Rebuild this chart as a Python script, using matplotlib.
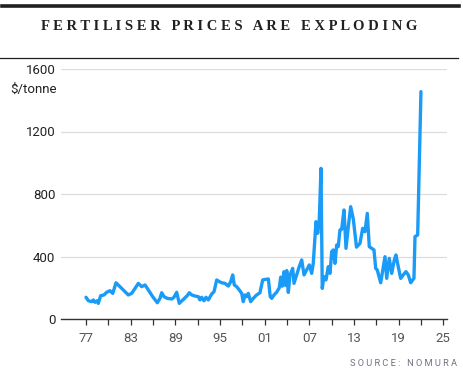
import matplotlib
matplotlib.use('Agg')
import matplotlib.pyplot as plt
from matplotlib.lines import Line2D

years = [1977.00, 1977.31, 1977.77, 1977.98, 1978.21, 1978.52, 1978.65, 1978.97, 1979.42, 1979.78,
         1980.22, 1980.59, 1981.03, 1981.47, 1982.01, 1982.68, 1983.14, 1983.58, 1984.03, 1984.48,
         1984.93, 1985.37, 1985.96, 1986.58, 1986.94, 1987.17, 1987.48, 1987.92, 1988.51, 1988.82,
         1989.18, 1989.53, 1990.07, 1990.61, 1990.88, 1991.20, 1991.64, 1992.09, 1992.31, 1992.54,
         1992.85, 1993.12, 1993.43, 1993.89, 1994.20, 1994.56, 1994.91, 1995.23, 1995.67, 1996.12,
         1996.44, 1996.71, 1996.92, 1997.24, 1997.59, 1997.92, 1998.13, 1998.36, 1998.59, 1998.80,
         1999.12, 1999.47, 1999.93, 2000.37, 2000.74, 2001.18, 2001.50, 2001.75, 2001.95, 2002.26,
         2002.62, 2002.97, 2003.16, 2003.36, 2003.60, 2003.80, 2003.97, 2004.18, 2004.40, 2004.77,
         2004.94, 2005.30, 2005.65, 2005.98, 2006.29, 2006.65, 2007.00, 2007.32, 2007.53, 2007.90,
         2008.13, 2008.34, 2008.57, 2008.74, 2008.97, 2009.24, 2009.55, 2009.78, 2010.01, 2010.22,
         2010.45, 2010.68, 2010.89, 2011.12, 2011.35, 2011.66, 2011.93, 2012.24, 2012.56, 2012.91,
         2013.34, 2013.81, 2014.17, 2014.48, 2014.79, 2015.06, 2015.38, 2015.69, 2015.92, 2016.13,
         2016.59, 2016.94, 2017.17, 2017.40, 2017.74, 2018.07, 2018.42, 2018.64, 2018.95, 2019.28,
         2019.62, 2019.99, 2020.30, 2020.62, 2020.89, 2021.06, 2021.20, 2021.56, 2022.00]
prices = [139, 117, 111, 122, 107, 117, 100, 149, 154, 171,
          181, 164, 232, 211, 186, 154, 164, 196, 228, 207,
          218, 186, 143, 104, 132, 168, 143, 132, 128, 139,
          171, 100, 125, 150, 168, 154, 147, 143, 122, 139,
          117, 139, 122, 160, 175, 250, 239, 232, 228, 211,
          239, 282, 218, 207, 186, 164, 111, 154, 143, 164,
          111, 132, 154, 168, 250, 254, 256, 143, 132, 154,
          172, 200, 268, 210, 303, 215, 310, 170, 282, 324,
          228, 282, 335, 378, 282, 314, 346, 292, 356, 623,
          548, 634, 964, 196, 271, 250, 335, 292, 431, 442,
          356, 474, 463, 570, 574, 698, 452, 591, 719, 640,
          460, 484, 580, 559, 676, 463, 452, 442, 324, 314,
          232, 335, 399, 260, 388, 292, 378, 410, 335, 260,
          282, 303, 282, 232, 250, 260, 527, 538, 1455]

y_ticks = [0, 400, 800, 1200, 1600]
x_major = list(range(1977, 2026, 6))
x_labels = ['77', '83', '89', '95', '01', '07', '13', '19', '25']
x_minor = list(range(1980, 2026, 6))

W, H = 464, 376
fig = plt.figure(figsize=(W / 100, H / 100), dpi=100)
fig.patch.set_facecolor('white')

# header rules + title
fig.add_artist(Line2D([2 / W, 459 / W], [1 - 5.5 / H, 1 - 5.5 / H], color='#231f20', lw=2.6,
                      transform=fig.transFigure))
fig.add_artist(Line2D([0, 458 / W], [1 - 58 / H, 1 - 58 / H], color='#231f20', lw=0.9,
                      transform=fig.transFigure))
fig.text(229.5 / W, 1 - 27 / H, ' '.join('FERTILISER PRICES ARE EXPLODING'),
         ha='center', va='center', fontsize=10.5, fontweight='bold',
         family='Liberation Serif', color='#231f20')

ax = fig.add_axes([61 / W, 1 - 319 / H, (447 - 61) / W, (319 - 69) / H])
ax.plot(years, prices, color='#1a9bf7', lw=2.4, solid_joinstyle='round', solid_capstyle='round',
        zorder=3)

ax.set_xlim(1973.64, 2025.5)
ax.set_ylim(0, 1600)
for s in ['top', 'right', 'left']:
    ax.spines[s].set_visible(False)
ax.spines['bottom'].set_color('#333333')
ax.spines['bottom'].set_linewidth(1.0)
ax.spines['bottom'].set_zorder(4)

ax.set_yticks(y_ticks)
ax.set_yticklabels([str(v) for v in y_ticks])
ax.yaxis.grid(True, color='#dddddd', lw=0.9)
ax.set_axisbelow(True)
ax.tick_params(axis='y', length=0, pad=4, labelsize=9.5, labelcolor='#222222')

ax.set_xticks(x_major)
ax.set_xticklabels(x_labels)
ax.set_xticks(x_minor, minor=True)
ax.tick_params(axis='x', which='both', length=4.5, width=0.9, color='#333333', direction='out')
ax.tick_params(axis='x', which='major', pad=5, labelsize=9.5, labelcolor='#555555')
for lab in ax.get_xticklabels() + ax.get_yticklabels():
    lab.set_family('Roboto')

ax.text(-4 / (447 - 61), (319 - 89) / (319 - 69), '$/tonne', transform=ax.transAxes,
        ha='right', va='center', fontsize=9.5, family='Roboto', color='#222222')

fig.text(457 / W, 1 - 363 / H, ' '.join('SOURCE: NOMURA'), ha='right', va='center',
         fontsize=6.7, family='Roboto', color='#6e7480')

fig.savefig('out.png', dpi=100)
